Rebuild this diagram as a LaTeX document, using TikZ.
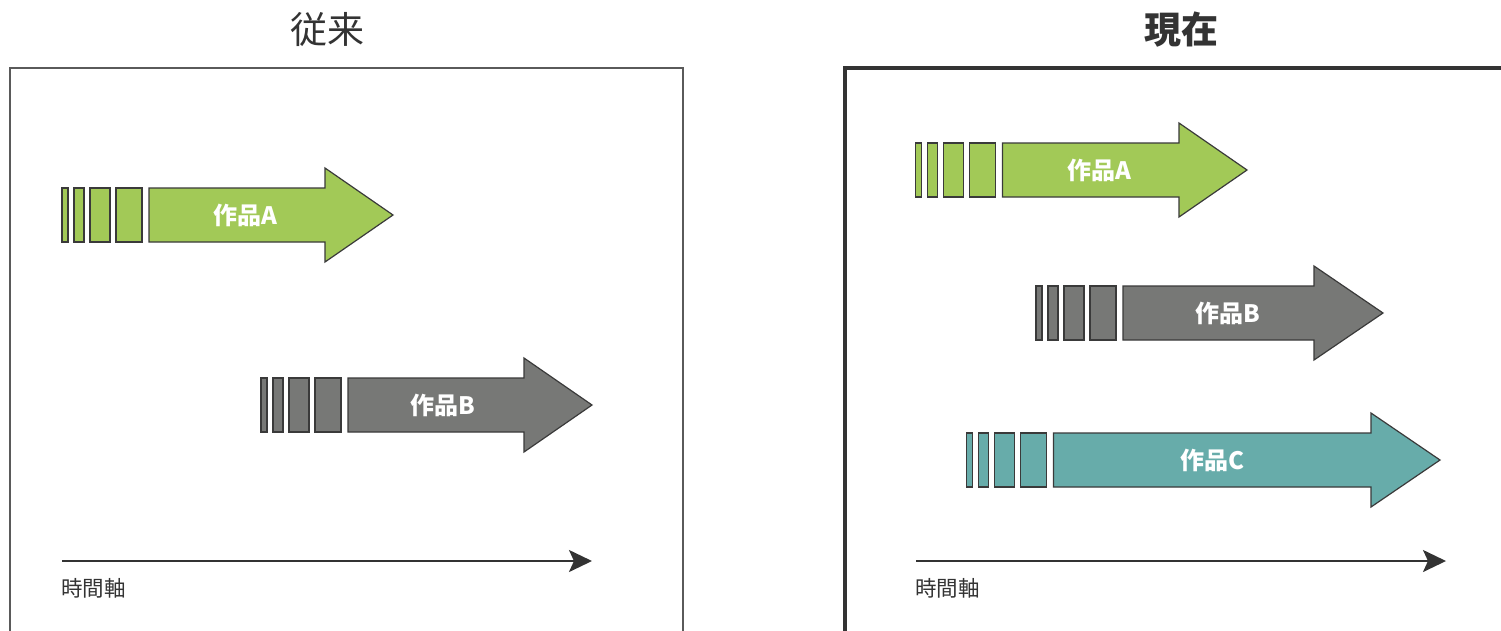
\documentclass[tikz,border=0pt]{standalone}
\usepackage{fontspec}
\setmainfont{Noto Sans CJK JP}
\usetikzlibrary{arrows.meta}
\definecolor{wgreen}{HTML}{A2C957}
\definecolor{wgray}{HTML}{777876}
\definecolor{wteal}{HTML}{67ACAA}
\definecolor{edge}{HTML}{3A3A3A}
\definecolor{ink}{HTML}{333333}
\definecolor{frameL}{HTML}{5A5A5A}
\tikzset{
  piece/.style={draw=edge, line width=1.2pt, line join=miter},
  worklabel/.style={text=white, font=\fontsize{24}{24}\selectfont\bfseries, inner sep=0pt},
  titletext/.style={text=ink, font=\fontsize{37}{37}\selectfont, inner sep=0pt},
  axislabel/.style={text=ink, font=\fontsize{21.5}{21.5}\selectfont, inner sep=0pt, anchor=west},
  axisline/.style={draw=ink, line width=2.2pt, -{Stealth[length=23pt,width=22pt,inset=5pt]}},
}
% #1 name, #2 x0, #3 y, #4 shaft end, #5 tip, #6 colour, #7 text, #8 text x
\newcommand{\workarrow}[8]{%
  \path[piece, fill=#6] (#2,#3-27) rectangle (#2+6,#3+27);
  \path[piece, fill=#6] (#2+12,#3-27) rectangle (#2+22,#3+27);
  \path[piece, fill=#6] (#2+28,#3-27) rectangle (#2+48,#3+27);
  \path[piece, fill=#6] (#2+54,#3-27) rectangle (#2+80,#3+27);
  \path[piece, fill=#6] (#2+87,#3-27) -- (#4,#3-27) -- (#4,#3-47) -- (#5,#3)
     -- (#4,#3+47) -- (#4,#3+27) -- (#2+87,#3+27) -- cycle;
  \node[worklabel] (#1) at (#8,#3) {#7};
}
\begin{document}
\begin{tikzpicture}[x=1pt,y=-1pt]
\clip (0,0) rectangle (1501,630);
\useasboundingbox (0,0) rectangle (1501,630);
\fill[white] (0,0) rectangle (1501,630);

% titles
\node[titletext] (told) at (327,30) {従来};
\node[titletext, font=\fontsize{37}{37}\selectfont\bfseries] (tnew) at (1181,30) {現在};

% frames
\draw[frameL, line width=1.3pt] (10,700) -- (10,68) -- (683,68) -- (683,700);
\draw[ink, line width=4.6pt] (845,700) -- (845,68) -- (1600,68);

% left panel
\workarrow{lA}{62}{215}{325}{393}{wgreen}{作品A}{245}
\workarrow{lB}{261}{405}{524}{592}{wgray}{作品B}{443}
\coordinate (lax0) at (62,561);
\coordinate (lax1) at (592,561);
\draw[axisline] (lax0) -- (lax1);
\node[axislabel] (lal) at (61,588) {時間軸};

% right panel
\workarrow{rA}{915.5}{170}{1179}{1247}{wgreen}{作品A}{1099}
\workarrow{rB}{1036}{313}{1314}{1383}{wgray}{作品B}{1228}
\workarrow{rC}{966.5}{460}{1371}{1440}{wteal}{作品C}{1212}
\coordinate (rax0) at (916,561);
\coordinate (rax1) at (1446,561);
\draw[axisline] (rax0) -- (rax1);
\node[axislabel] (ral) at (915,588) {時間軸};
\end{tikzpicture}
\end{document}
